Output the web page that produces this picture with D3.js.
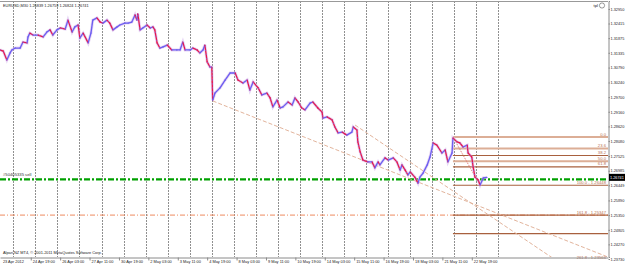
<!DOCTYPE html>
<meta charset="utf-8">
<style>
body { margin: 0; background: #fff; }
svg { display: block; font-family: "Liberation Sans", Arial, sans-serif; }
</style>
<body>
<script src="https://d3js.org/d3.v7.min.js"></script>
<script>

var width = 625, height = 268,
    plotRight = 608, plotTop = 1, plotBottom = 257;

// EURUSD M30 - bar index counts half hours of trading days, day 0 = 23 Apr 2012
var barIdx = [19,26,34,41,45,52,63,69,78,80,84,91,102,113,121,128,134,143,150,161,
  167,176,182,189,193,200,211,217,221,230,237,243,252,258,265,274,280,291,298,306,
  313,317,319,324,330,339,346,352,356,361,367,374,383,393,404,411,417,422,433,439,
  448,454,461,465,470,476,480,481,482,487,498,509,520,531,537,548,557,563,570,581,
  589,600,607,613,622,629,635,646,655,661,668,676,683,694,700,711,720,722,731,742,
  748,755,764,774,785,788,796,798,803,809,820,829,835,842,846,857,864,875,883,890,
  894,901,907,912,922,929,933,940,949,955,962,970,981,988,994,1003,1005,1014,1020,1027,
  1036,1038,1046,1049,1053,1060,1064,1071,1079];
var closes = [1.3144,1.3140,1.3107,1.3133,1.3144,1.3151,1.3151,1.3173,1.3170,1.3192,
  1.3206,1.3199,1.3199,1.3192,1.3210,1.3218,1.3199,1.3218,1.3225,1.3221,
  1.3254,1.3210,1.3229,1.3236,1.3188,1.3206,1.3170,1.3206,1.3254,1.3262,
  1.3247,1.3243,1.3254,1.3243,1.3218,1.3229,1.3236,1.3243,1.3243,1.3247,
  1.3273,1.3254,1.3277,1.3218,1.3225,1.3236,1.3225,1.3229,1.3218,1.3170,
  1.3151,1.3155,1.3162,1.3144,1.3144,1.3144,1.3173,1.3144,1.3144,1.3151,
  1.3144,1.3133,1.3144,1.3162,1.3100,1.3081,1.3081,1.3026,1.2959,1.2985,
  1.3004,1.3033,1.3059,1.3059,1.3033,1.3022,1.3033,1.2996,1.3026,1.3004,
  1.2978,1.2985,1.2967,1.2934,1.2959,1.2930,1.2934,1.2952,1.2941,1.2967,
  1.2952,1.2930,1.2923,1.2948,1.2952,1.2930,1.2915,1.2893,1.2897,1.2886,
  1.2860,1.2838,1.2841,1.2830,1.2841,1.2860,1.2849,1.2805,1.2768,1.2738,
  1.2731,1.2731,1.2709,1.2731,1.2720,1.2746,1.2738,1.2746,1.2731,1.2701,
  1.2720,1.2701,1.2683,1.2694,1.2675,1.2653,1.2675,1.2690,1.2720,1.2749,
  1.2801,1.2793,1.2764,1.2775,1.2731,1.2764,1.2819,1.2805,1.2801,1.2786,
  1.2793,1.2764,1.2749,1.2712,1.2675,1.2664,1.2646,1.2672,1.2674];

var priceTicks = [1.32950,1.32415,1.31875,1.31335,1.30790,1.30240,1.29700,1.29160,1.28620,
  1.28080,1.27525,1.26985,1.26449,1.25890,1.25350,1.24805,1.24270,1.23730];

var timeBars = [21,86,150,214,278,342,406,470,534,598,662,726,790,854,918,982,1046];
var timeLabels = ["23 Apr 2012","24 Apr 19:00","26 Apr 03:00","27 Apr 11:00","30 Apr 19:00",
  "2 May 03:00","3 May 11:00","4 May 19:00","8 May 03:00","9 May 11:00","10 May 19:00",
  "14 May 03:00","15 May 11:00","16 May 19:00","18 May 03:00","21 May 11:00","22 May 19:00"];
var dayCount = 23;

var fibHigh = 1.28229, fibLow = 1.26448, fibFrom = 1005, fibTo = 1064;
var fibLevels = [0, 23.6, 38.2, 50, 61.8, 100, 161.8, 200, 261.8];
var fibNames = ["0.0","23.6","38.2","50.0","61.8","100.0 - ","161.8 - ","","261.8 - "];

var trendA = [[482, 1.2956], [890, 1.2683]];
var trendB = [[792, 1.2867], [991, 1.2640]];

var orderPrice = 1.2667, orderName = "#50405335 sell";
var tpPrice = 1.2535, bidPrice = 1.26741;
var ohlc = ["1.26839", "1.26759", "1.26824", "1.26741"];

var x = d3.scaleLinear().domain([19.05, 1342.5]).range([0, plotRight]);
var y = d3.scaleLinear().domain([1.23804, 1.33245]).range([plotBottom, plotTop]);

var svg = d3.select("body").append("svg")
    .attr("width", width)
    .attr("height", height);

svg.append("defs").append("clipPath").attr("id", "plot")
  .append("rect").attr("x", 0).attr("y", plotTop).attr("width", plotRight).attr("height", plotBottom - plotTop);

// daily separators
svg.append("g").selectAll("line")
  .data(d3.range(1, dayCount + 1))
  .enter().append("line")
  .attr("x1", function(d){ return Math.round(x(d * 48)) + 0.5; })
  .attr("x2", function(d){ return Math.round(x(d * 48)) + 0.5; })
  .attr("y1", plotTop).attr("y2", plotBottom)
  .attr("stroke", "#909090")
  .attr("stroke-dasharray", "2,1");

var plot = svg.append("g").attr("clip-path", "url(#plot)");

// order + take profit lines
plot.append("line")
  .attr("x1", 0).attr("x2", plotRight)
  .attr("y1", y(tpPrice)).attr("y2", y(tpPrice))
  .attr("stroke", "#ee8a60").attr("stroke-width", 1)
  .attr("stroke-dasharray", "5,2,1,2");

plot.append("line")
  .attr("x1", 0).attr("x2", plotRight)
  .attr("y1", y(orderPrice)).attr("y2", y(orderPrice))
  .attr("stroke", "#00a000").attr("stroke-width", 2.2)
  .attr("stroke-dasharray", "6,2,2,2");

svg.append("text")
  .attr("x", 3).attr("y", y(orderPrice) - 3)
  .attr("font-size", 4.2).attr("fill", "#333")
  .text(orderName);

// fibo
var fibStyle = {0: ["#dcae96", 2], 23.6: ["#dcae96", 2], 50: ["#dcae96", 2]};
function fibPrice(l){ return fibHigh - (fibHigh - fibLow) * l / 100; }

plot.append("g").selectAll("line")
  .data(fibLevels)
  .enter().append("line")
  .attr("x1", x(fibFrom)).attr("x2", plotRight)
  .attr("y1", function(d){ return y(fibPrice(d)); })
  .attr("y2", function(d){ return y(fibPrice(d)); })
  .attr("stroke", function(d){ return fibStyle[d] ? fibStyle[d][0] : "#a8603e"; })
  .attr("stroke-width", function(d){ return fibStyle[d] ? fibStyle[d][1] : 1.1; });

svg.append("g").selectAll("text")
  .data(fibLevels)
  .enter().append("text")
  .attr("x", plotRight - 2)
  .attr("y", function(d){ return Math.min(y(fibPrice(d)) - 1.5, plotBottom + 2); })
  .attr("text-anchor", "end")
  .attr("font-size", 4.2)
  .attr("fill", "#b87050")
  .text(function(d, i){
    if (!fibNames[i]) return "";
    return fibNames[i] + (d >= 100 ? d3.format(".5f")(fibPrice(d)) : "");
  });

plot.append("line")
  .attr("x1", x(fibFrom)).attr("y1", y(fibHigh))
  .attr("x2", x(fibTo)).attr("y2", y(fibLow))
  .attr("stroke", "#e06a6a").attr("stroke-dasharray", "1,1");

// trend rays
function ray(t){
  var k = (t[1][1] - t[0][1]) / (t[1][0] - t[0][0]);
  var end = x.domain()[1];
  return [t[0], [end, t[0][1] + k * (end - t[0][0])]];
}
plot.append("g").selectAll("line")
  .data([trendA, trendB].map(ray))
  .enter().append("line")
  .attr("x1", function(d){ return x(d[0][0]); })
  .attr("y1", function(d){ return y(d[0][1]); })
  .attr("x2", function(d){ return x(d[1][0]); })
  .attr("y2", function(d){ return y(d[1][1]); })
  .attr("stroke", "#e2b49c")
  .attr("stroke-dasharray", "4,2");

// price
var pts = barIdx.map(function(b, i){ return [b, closes[i]]; });
var priceLine = d3.line().x(function(d){ return x(d[0]); }).y(function(d){ return y(d[1]); });
plot.append("path")
  .attr("d", priceLine(pts))
  .attr("fill", "none")
  .attr("stroke", "#d4b4ec")
  .attr("stroke-width", 3)
  .attr("stroke-opacity", 0.55);

plot.append("g").selectAll("line")
  .data(d3.pairs(pts))
  .enter().append("line")
  .attr("x1", function(d){ return x(d[0][0]); })
  .attr("y1", function(d){ return y(d[0][1]); })
  .attr("x2", function(d){ return x(d[1][0]); })
  .attr("y2", function(d){ return y(d[1][1]); })
  .attr("stroke", function(d){ return d[1][1] >= d[0][1] ? "#6a5cf0" : "#e8164a"; })
  .attr("stroke-width", 1.3)
  .attr("stroke-linecap", "round");

// bars of the opposite colour show through along the line
plot.append("path")
  .attr("d", priceLine(pts))
  .attr("fill", "none")
  .attr("stroke", "#7a6af2")
  .attr("stroke-width", 1)
  .attr("stroke-opacity", 0.7)
  .attr("stroke-dasharray", "1,3");

// frame
svg.append("line").attr("x1", 0).attr("x2", plotRight).attr("y1", 1.5).attr("y2", 1.5).attr("stroke", "#999");

// axes
var yAxis = svg.append("g")
  .attr("transform", "translate(" + (plotRight + 0.5) + ",0)")
  .call(d3.axisRight(y).tickValues(priceTicks).tickFormat(d3.format(".5f")).tickSize(1.5).tickPadding(0.5));

var xAxis = svg.append("g")
  .attr("transform", "translate(0," + (plotBottom + 0.5) + ")")
  .call(d3.axisBottom(x).tickValues(timeBars).tickFormat(function(d, i){ return timeLabels[i]; }).tickSize(3).tickSizeOuter(0));

[yAxis, xAxis].forEach(function(a){
  a.select(".domain").attr("stroke", "#8a8a8a");
  a.selectAll(".tick line").attr("stroke", "#8a8a8a");
  a.selectAll("text").attr("fill", "#222").attr("font-family", "Liberation Sans, Arial, sans-serif");
});
yAxis.selectAll("text").attr("font-size", 3.85);
xAxis.selectAll("text").attr("font-size", 3.9).attr("text-anchor", "start").attr("dx", 1.5).attr("y", 3);
xAxis.select(".tick").select("line").remove();

// bid box
svg.append("rect")
  .attr("x", plotRight + 1).attr("y", y(bidPrice) - 3.5)
  .attr("width", width - plotRight).attr("height", 7).attr("fill", "#000");
svg.append("text")
  .attr("x", plotRight + 2).attr("y", y(bidPrice) + 1.5)
  .attr("font-size", 3.85).attr("fill", "#fff").text(d3.format(".5f")(bidPrice));

// labels
svg.append("text").attr("x", 3).attr("y", 7).attr("font-size", 3.9).attr("fill", "#222")
  .text("EURUSD,M30  " + ohlc.join(" "));
svg.append("text").attr("x", 3).attr("y", 253.5).attr("font-size", 3.9).attr("fill", "#222")
  .text("Alpari NZ MT4, \u00a9 2001-2011 MetaQuotes Software Corp.");
svg.append("text").attr("x", 598).attr("y", 7).attr("font-size", 4.2).attr("fill", "#222")
  .attr("text-anchor", "end").text("tpl");
svg.append("circle").attr("cx", 602).attr("cy", 5.5).attr("r", 2.6)
  .attr("fill", "none").attr("stroke", "#555").attr("stroke-width", 0.6);
</script>
